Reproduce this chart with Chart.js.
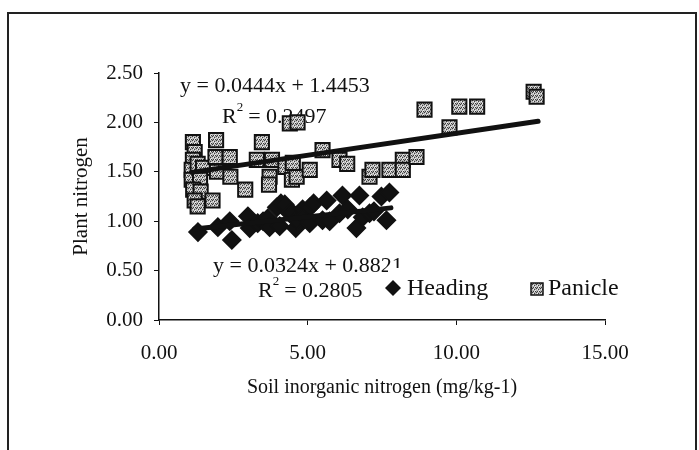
<!DOCTYPE html>
<html>
<head>
<meta charset="utf-8">
<script src="https://cdn.jsdelivr.net/npm/chart.js@4.4.1/dist/chart.umd.min.js"></script>
<style>
  body { margin: 0; background: #fff; }
  #wrap { position: relative; width: 699px; height: 450px; overflow: hidden; }
  #frame { position: absolute; left: 7px; top: 12px; width: 686px; height: 460px;
           border: 2px solid #222; border-bottom: none; }
  canvas { position: absolute; left: 0; top: 0; }
</style>
</head>
<body>
<div id="wrap">
  <div id="frame"></div>
  <canvas id="myChart" width="699" height="450"></canvas>
</div>
<script>
// Heading (diamonds)
const headingX = [1.31, 1.98, 2.38, 2.45, 2.99, 3.05, 3.32, 3.50, 3.66, 3.72, 3.96, 4.06, 4.10, 4.23, 4.40, 4.50, 4.60, 4.63, 4.83, 4.90, 5.07, 5.07, 5.20, 5.50, 5.64, 5.74, 6.07, 6.17, 6.35, 6.64, 6.74, 6.85, 7.08, 7.23, 7.48, 7.65, 7.75];
const headingY = [0.89, 0.94, 1.00, 0.81, 1.05, 0.93, 0.98, 1.00, 1.03, 0.94, 1.14, 0.95, 1.18, 1.17, 1.08, 1.08, 0.93, 1.01, 1.12, 1.05, 1.14, 0.98, 1.18, 1.01, 1.21, 1.00, 1.08, 1.26, 1.12, 0.93, 1.26, 1.04, 1.08, 1.10, 1.25, 1.01, 1.29];

// Panicle (squares)
const panicleX = [1.14, 1.20, 1.14, 1.10, 1.30, 1.48, 1.10, 1.38, 1.15, 1.40, 1.20, 1.30, 1.80, 1.92, 1.90, 1.95, 2.38, 2.40, 2.90, 3.29, 3.46, 3.72, 3.70, 3.80, 4.25, 4.40, 4.47, 4.66, 4.63, 4.50, 5.07, 5.50, 6.07, 6.33, 7.08, 7.18, 7.75, 8.20, 8.20, 8.66, 8.93, 9.77, 10.10, 10.70, 12.60, 12.70];
const panicleY = [1.80, 1.70, 1.62, 1.52, 1.58, 1.54, 1.42, 1.42, 1.32, 1.30, 1.21, 1.15, 1.21, 1.82, 1.65, 1.50, 1.65, 1.45, 1.32, 1.62, 1.80, 1.45, 1.37, 1.62, 1.55, 1.99, 1.42, 2.00, 1.45, 1.59, 1.52, 1.72, 1.62, 1.58, 1.45, 1.52, 1.52, 1.62, 1.52, 1.65, 2.13, 1.95, 2.16, 2.16, 2.31, 2.26];

// linear trend lines (slope, intercept, x range)
const seriesNames = ["Heading", "Panicle"];
const trendSlope = [0.0324, 0.0444];
const trendIntercept = [0.8821, 1.4453];
const trendRangeX = [[1.2, 7.8], [1.1, 12.75]];
const trendR2 = ["0.2805", "0.2497"];

const xTicks = [0, 5, 10, 15];
const yMax = 2.5;

const ink = "#111";
const serif = "'Liberation Serif', 'Times New Roman', serif";

function toPoints(xs, ys) {
  return xs.map((x, i) => ({ x: x, y: ys[i] }));
}

function trendPoints(k) {
  return trendRangeX[k].map((x) => ({ x: x, y: trendSlope[k] * x + trendIntercept[k] }));
}

// speckled grey fill for the squares
function speckle() {
  const c = document.createElement("canvas");
  c.width = 4;
  c.height = 4;
  const g = c.getContext("2d");
  g.fillStyle = "#b4b4b4";
  g.fillRect(0, 0, 4, 4);
  g.fillStyle = "#3c3c3c";
  g.fillRect(0, 0, 1, 1);
  g.fillRect(2, 1, 1, 1);
  g.fillRect(1, 3, 1, 1);
  g.fillRect(3, 3, 1, 1);
  g.fillStyle = "#eeeeee";
  g.fillRect(3, 2, 1, 1);
  g.fillRect(1, 1, 1, 1);
  g.fillRect(2, 3, 1, 1);
  return g.createPattern(c, "repeat");
}

function eqText(k) {
  return "y = " + trendSlope[k].toFixed(4) + "x + " + trendIntercept[k].toFixed(4);
}

function drawR2(ctx, x, y, val) {
  ctx.font = "22px " + serif;
  ctx.fillText("R", x, y);
  const w = ctx.measureText("R").width;
  ctx.font = "13px " + serif;
  ctx.fillText("2", x + w, y - 9);
  ctx.font = "22px " + serif;
  ctx.fillText(" = " + val, x + w + 6, y);
}

const labelsPlugin = {
  id: "trendLabels",
  beforeDatasetsDraw(chart) {
    const ctx = chart.ctx;
    ctx.save();
    ctx.fillStyle = ink;
    ctx.textBaseline = "middle";
    ctx.textAlign = "left";
    ctx.font = "22px " + serif;
    ctx.fillText(eqText(1), 180, 86);
    drawR2(ctx, 222, 117, trendR2[1]);
    ctx.font = "22px " + serif;
    ctx.fillText(eqText(0), 213, 266);
    ctx.restore();
  },
  afterDraw(chart) {
    const ctx = chart.ctx;
    ctx.save();
    // legend box hides part of the lower equation
    ctx.fillStyle = "#fff";
    ctx.fillRect(388, 268, 242, 34);
    ctx.fillStyle = ink;
    ctx.textBaseline = "middle";
    drawR2(ctx, 258, 291, trendR2[0]);
    // legend
    ctx.beginPath();
    ctx.moveTo(393, 280);
    ctx.lineTo(401, 288);
    ctx.lineTo(393, 296);
    ctx.lineTo(385, 288);
    ctx.closePath();
    ctx.fill();
    ctx.font = "24px " + serif;
    ctx.fillText(seriesNames[0], 407, 289);
    ctx.fillStyle = speckle();
    ctx.fillRect(531, 283, 12, 12);
    ctx.strokeStyle = ink;
    ctx.lineWidth = 1.5;
    ctx.strokeRect(531, 283, 12, 12);
    ctx.fillStyle = ink;
    ctx.fillText(seriesNames[1], 548, 289);
    ctx.restore();
  },
};

const ctx = document.getElementById("myChart");

new Chart(ctx, {
  type: "scatter",
  data: {
    datasets: [
      {
        label: seriesNames[0] + " trend",
        type: "line",
        data: trendPoints(0),
        borderColor: ink,
        borderWidth: 5,
        pointRadius: 0,
        borderCapStyle: "round",
        order: 0,
      },
      {
        label: seriesNames[1] + " trend",
        type: "line",
        data: trendPoints(1),
        borderColor: ink,
        borderWidth: 5,
        pointRadius: 0,
        borderCapStyle: "round",
        order: 0,
      },
      {
        label: seriesNames[0],
        data: toPoints(headingX, headingY),
        pointStyle: "rectRot",
        pointRadius: 9,
        backgroundColor: ink,
        borderColor: ink,
        borderWidth: 1.5,
        order: 2,
      },
      {
        label: seriesNames[1],
        data: toPoints(panicleX, panicleY),
        pointStyle: "rect",
        pointRadius: 10,
        backgroundColor: speckle(),
        borderColor: ink,
        borderWidth: 2,
        order: 1,
      },
    ],
  },
  options: {
    responsive: false,
    animation: false,
    layout: { padding: { left: 69, top: 73, right: 94, bottom: 50 } },
    plugins: { legend: { display: false }, tooltip: { enabled: false } },
    scales: {
      x: {
        type: "linear",
        min: xTicks[0],
        max: xTicks[xTicks.length - 1],
        afterFit: (s) => { s.height = 80; },
        afterBuildTicks: (s) => { s.ticks = xTicks.map((v) => ({ value: v })); },
        grid: { drawOnChartArea: false, tickLength: 5, color: ink },
        border: { color: ink, width: 1.5 },
        ticks: {
          padding: 16,
          color: ink,
          font: { family: serif, size: 21 },
          maxRotation: 0,
          callback: (v) => Number(v).toFixed(2),
        },
        title: {
          display: true,
          text: "Soil inorganic nitrogen (mg/kg-1)",
          color: ink,
          font: { family: serif, size: 20 },
          padding: 0,
        },
      },
      y: {
        min: 0,
        max: yMax,
        afterFit: (s) => { s.width = 90; },
        grid: { drawOnChartArea: false, tickLength: 5, color: ink },
        border: { color: ink, width: 1.5 },
        ticks: {
          stepSize: 0.5,
          padding: 11,
          color: ink,
          font: { family: serif, size: 21 },
          callback: (v) => Number(v).toFixed(2),
        },
        title: {
          display: true,
          text: "Plant nitrogen",
          color: ink,
          font: { family: serif, size: 21 },
          padding: 0,
        },
      },
    },
  },
  plugins: [labelsPlugin],
});
</script>
</body>
</html>
